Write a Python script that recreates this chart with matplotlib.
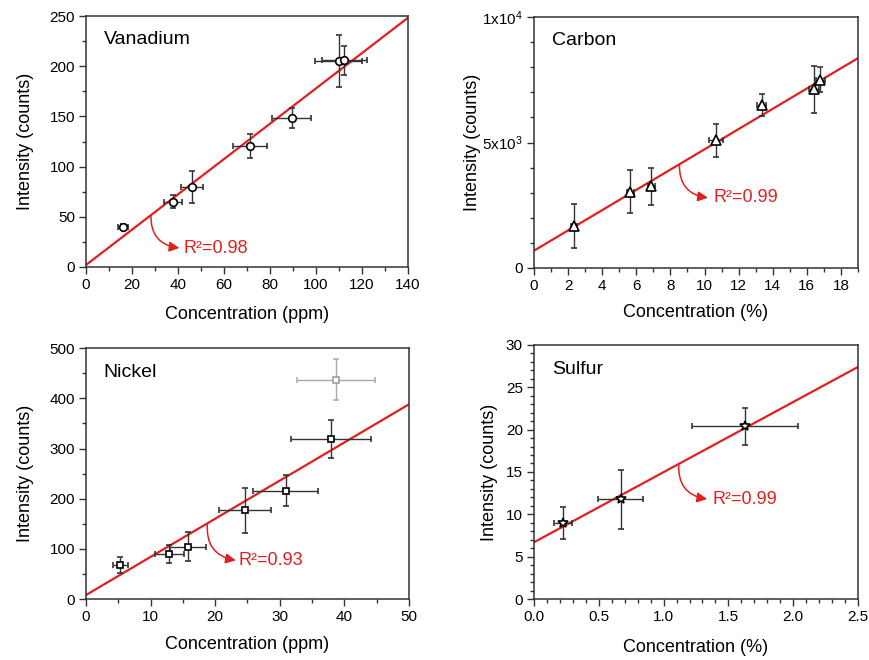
import numpy as np
import matplotlib
matplotlib.use('Agg')
import matplotlib.pyplot as plt
from matplotlib.ticker import MultipleLocator, FixedLocator, FixedFormatter, FormatStrFormatter

plt.rcParams['font.family'] = ['Liberation Sans', 'DejaVu Sans']
plt.rcParams['mathtext.fontset'] = 'custom'
plt.rcParams['mathtext.rm'] = 'Liberation Sans'
plt.rcParams['mathtext.it'] = 'Liberation Sans:italic'

# Vanadium (ppm)
van_x = [16, 37.8, 46.2, 71.5, 89.5, 109.9, 112.4]
van_y = [40, 65, 79.5, 120.5, 148.5, 205, 206]
van_xerr = [2.3, 4, 4.8, 7.4, 8.5, 10.2, 9.9]
van_yerr = [3, 6.3, 15.7, 11.6, 10.4, 26, 14.6]
van_fit = (1.76, 2.0)

# Carbon (%)
car_x = [2.35, 5.65, 6.88, 10.69, 13.35, 16.4, 16.8]
car_y = [1670, 3040, 3260, 5090, 6490, 7120, 7510]
car_xerr = [0.2, 0.2, 0.2, 0.4, 0.25, 0.3, 0.25]
car_yerr = [875, 860, 745, 660, 430, 940, 500]
car_fit = (404, 690)

# Nickel (ppm), last point excluded from the fit
ni_x = [5.3, 12.9, 15.8, 24.6, 30.9, 38.0]
ni_y = [68, 89, 104, 177, 216, 319]
ni_xerr = [1.2, 2.25, 2.8, 4.05, 5.0, 6.2]
ni_yerr = [16, 18, 29, 45, 31, 37]
ni_out_x, ni_out_y, ni_out_xerr, ni_out_yerr = 38.7, 437, 6.05, 41
ni_fit = (7.6, 8.0)

# Sulfur (%)
s_x = [0.227, 0.668, 1.63]
s_y = [8.96, 11.75, 20.4]
s_xerr = [0.07, 0.175, 0.41]
s_yerr = [1.85, 3.45, 2.2]
s_fit = (8.28, 6.7)

RED = '#e31e1e'
EC = '#333333'

fig = plt.figure(figsize=(8.7, 6.6), dpi=100)


def style_axes(ax, ylab_x, xlab_y):
    for sp in ax.spines.values():
        sp.set_color(EC)
        sp.set_linewidth(1.1)
    ax.tick_params(which='major', direction='out', length=5, width=1, color=EC,
                   labelsize=11, pad=3, top=False, right=False)
    ax.tick_params(which='minor', direction='out', length=3, width=1, color=EC,
                   top=False, right=False)
    ax.set_ylabel('Intensity (counts)', fontsize=13, va='center')
    ax.yaxis.set_label_coords(ylab_x, 0.5)
    ax.xaxis.label.set_va('center')
    ax.xaxis.set_label_coords(0.5, xlab_y)


def panel(ax, x, y, xerr, yerr, fit, marker, ms, name, xlabel, r2, start_x, head, text_pos,
          ylab_x, xlab_y):
    ax.errorbar(x, y, xerr=xerr, yerr=yerr, fmt=marker, ms=ms, mfc='white', mec='black',
                mew=1.2, ecolor=EC, elinewidth=1, capsize=2.5, capthick=1, zorder=3)
    xl = np.array(ax.get_xlim())
    ax.plot(xl, fit[0] * xl + fit[1], color=RED, lw=1.6, zorder=2)
    ax.set_xlim(xl)
    ax.text(0.055, 0.905, name, transform=ax.transAxes, fontsize=14, va='center', ha='left')
    start = (start_x, fit[0] * start_x + fit[1])
    ax.annotate('', xy=head, xytext=start,
                arrowprops=dict(arrowstyle='-|>,head_length=0.6,head_width=0.3', color=RED,
                                lw=1.1, shrinkA=0, shrinkB=0,
                                connectionstyle='arc3,rad=0.45'))
    ax.text(text_pos[0], text_pos[1], r2, color=RED, fontsize=13, va='center', ha='left')
    ax.set_xlabel(xlabel, fontsize=13)
    style_axes(ax, ylab_x, xlab_y)


# Vanadium
ax1 = fig.add_axes([0.0989, 0.5955, 0.370, 0.380])
ax1.set_xlim(0, 140)
ax1.set_ylim(0, 250)
ax1.xaxis.set_major_locator(MultipleLocator(20))
ax1.xaxis.set_minor_locator(MultipleLocator(10))
ax1.yaxis.set_major_locator(MultipleLocator(50))
ax1.yaxis.set_minor_locator(MultipleLocator(25))
panel(ax1, van_x, van_y, van_xerr, van_yerr, van_fit, 'o', 5.5, 'Vanadium',
      'Concentration (ppm)', 'R²=0.98', 28.2, (40.6, 19), (42.3, 18), -0.189, -0.191)

# Carbon
ax2 = fig.add_axes([0.6138, 0.594, 0.3724, 0.380])
ax2.set_xlim(0, 19)
ax2.set_ylim(0, 10000)
ax2.xaxis.set_major_locator(MultipleLocator(2))
ax2.xaxis.set_minor_locator(MultipleLocator(1))
ax2.yaxis.set_major_locator(FixedLocator([0, 5000, 10000]))
ax2.yaxis.set_major_formatter(FixedFormatter(['0', r'5x10$^{3}$', r'1x10$^{4}$']))
ax2.yaxis.set_minor_locator(MultipleLocator(1000))
panel(ax2, car_x, car_y, car_xerr, car_yerr, car_fit, '^', 6.5, 'Carbon',
      'Concentration (%)', 'R²=0.99', 8.53, (10.2, 2800), (10.5, 2800), -0.19, -0.179)

# Nickel
ax3 = fig.add_axes([0.0989, 0.0924, 0.371, 0.380])
ax3.set_xlim(0, 50)
ax3.set_ylim(0, 500)
ax3.xaxis.set_major_locator(MultipleLocator(10))
ax3.xaxis.set_minor_locator(MultipleLocator(5))
ax3.yaxis.set_major_locator(MultipleLocator(100))
ax3.yaxis.set_minor_locator(MultipleLocator(50))
ax3.errorbar([ni_out_x], [ni_out_y], xerr=[ni_out_xerr], yerr=[ni_out_yerr], fmt='s', ms=4.5,
             mfc='white', mec='#999999', mew=1.1, ecolor='#aaaaaa', elinewidth=1,
             capsize=2.5, capthick=1, zorder=3)
panel(ax3, ni_x, ni_y, ni_xerr, ni_yerr, ni_fit, 's', 4.5, 'Nickel',
      'Concentration (ppm)', 'R²=0.93', 18.8, (23.2, 77), (23.6, 77), -0.189, -0.183)

# Sulfur
ax4 = fig.add_axes([0.6138, 0.0924, 0.3724, 0.385])
ax4.set_xlim(0, 2.5)
ax4.set_ylim(0, 30)
ax4.xaxis.set_major_locator(MultipleLocator(0.5))
ax4.xaxis.set_minor_locator(MultipleLocator(0.1))
ax4.xaxis.set_major_formatter(FormatStrFormatter('%.1f'))
ax4.yaxis.set_major_locator(MultipleLocator(5))
ax4.yaxis.set_minor_locator(MultipleLocator(1))
panel(ax4, s_x, s_y, s_xerr, s_yerr, s_fit, '*', 7.5, 'Sulfur',
      'Concentration (%)', 'R²=0.99', 1.117, (1.336, 11.8), (1.375, 11.8), -0.136, -0.189)

fig.savefig('out.png', dpi=100)
